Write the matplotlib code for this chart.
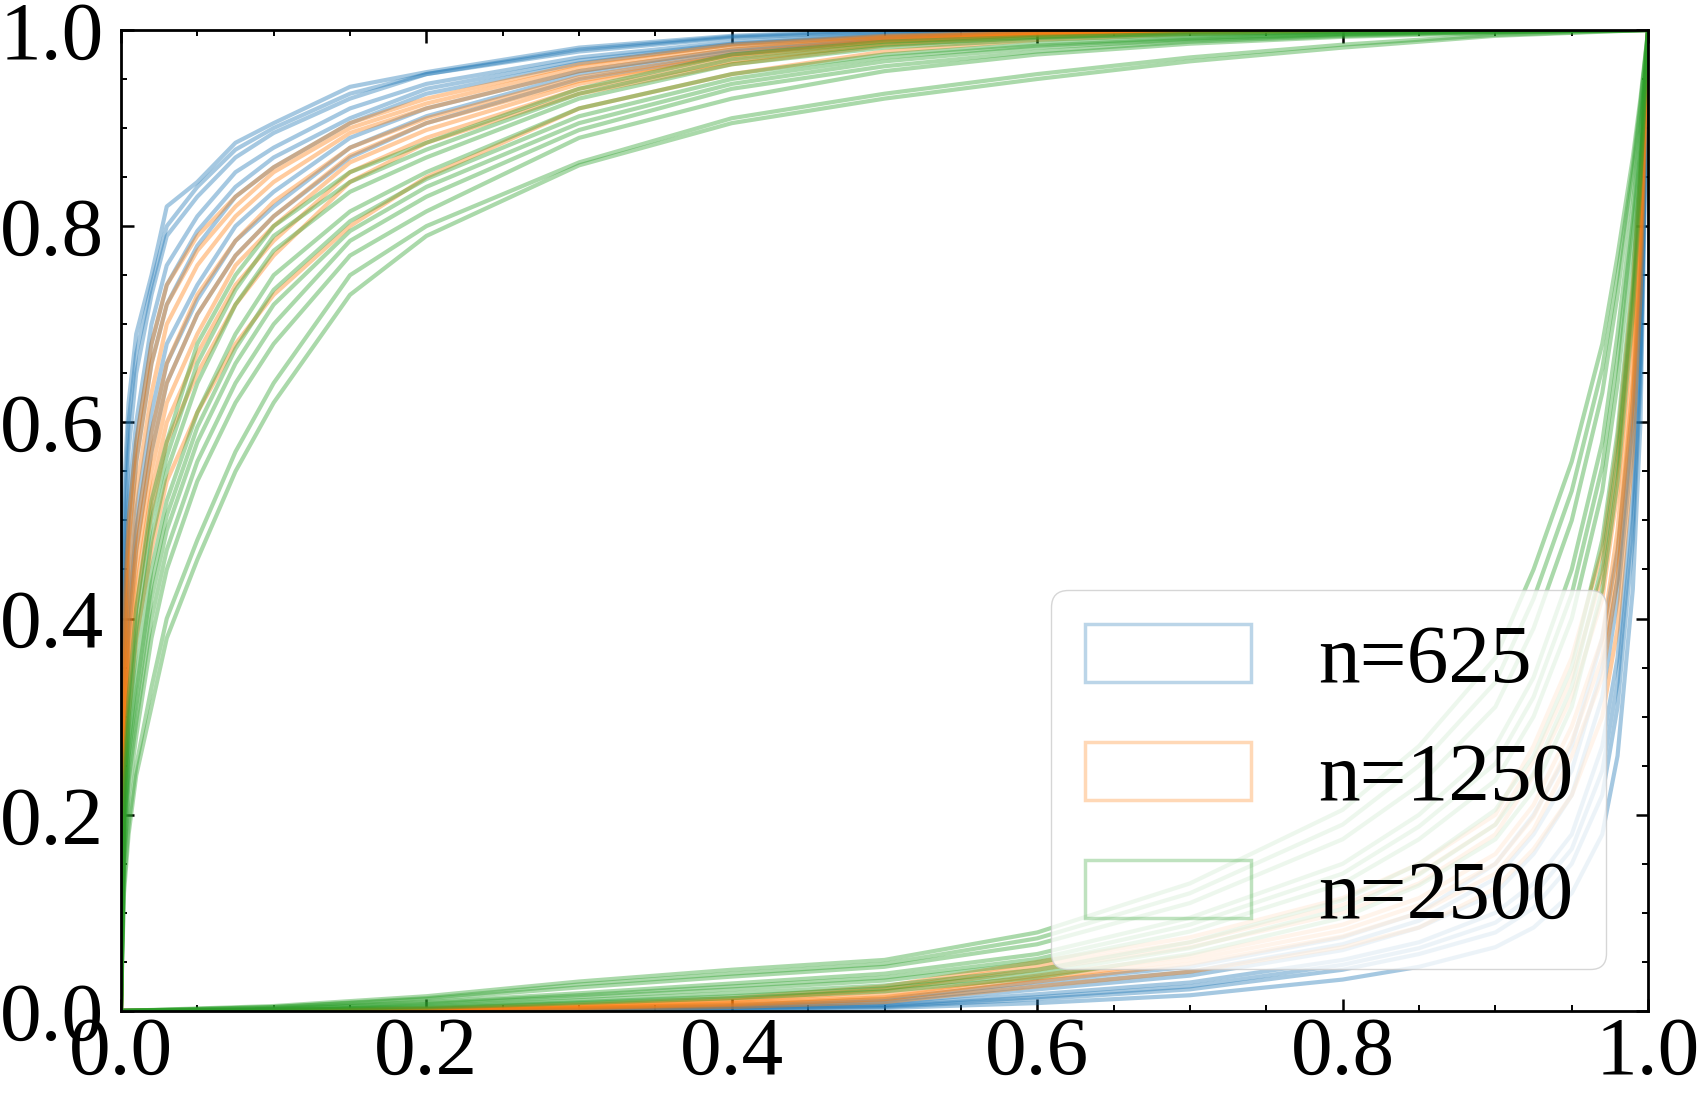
import matplotlib
matplotlib.use('Agg')
import matplotlib.pyplot as plt
import matplotlib.patches as mpatches
from matplotlib.ticker import MultipleLocator

plt.rcParams['font.family'] = 'serif'
plt.rcParams['font.serif'] = ['Liberation Serif', 'DejaVu Serif']

# x grid for the upper (concave) curves
x_up = [0, 0.002, 0.005, 0.01, 0.02, 0.03, 0.05, 0.075, 0.1, 0.15, 0.2, 0.3, 0.4, 0.5, 0.6, 0.7, 0.8, 0.9, 1.0]

# n=625 upper curves
up_625 = [
    [0, .53, .62, .69, .75, .82, .845, .885, .905, .942, .957, .982, .994, 1.0, 1.0, 1.0, 1.0, 1.0, 1.0],
    [0, .49, .60, .67, .74, .80, .84, .878, .90, .935, .955, .98, .993, .999, 1.0, 1.0, 1.0, 1.0, 1.0],
    [0, .45, .57, .65, .73, .79, .83, .87, .895, .93, .955, .978, .992, .998, 1.0, 1.0, 1.0, 1.0, 1.0],
    [0, .40, .52, .60, .70, .76, .81, .855, .88, .92, .945, .972, .988, .996, .999, 1.0, 1.0, 1.0, 1.0],
    [0, .37, .50, .58, .68, .74, .795, .84, .87, .91, .94, .969, .986, .995, .999, 1.0, 1.0, 1.0, 1.0],
    [0, .35, .47, .56, .66, .72, .78, .83, .86, .905, .935, .966, .985, .994, .998, 1.0, 1.0, 1.0, 1.0],
    [0, .30, .42, .51, .61, .68, .74, .80, .835, .89, .92, .958, .98, .992, .997, .999, 1.0, 1.0, 1.0],
    [0, .28, .40, .49, .59, .66, .725, .785, .82, .88, .912, .955, .978, .991, .997, .999, 1.0, 1.0, 1.0],
    [0, .26, .38, .47, .57, .64, .71, .77, .81, .87, .905, .95, .975, .99, .996, .999, 1.0, 1.0, 1.0],
]
# n=1250 upper curves
up_1250 = [
    [0, .40, .50, .58, .68, .74, .79, .83, .86, .905, .93, .965, .985, .994, .998, 1.0, 1.0, 1.0, 1.0],
    [0, .37, .48, .56, .66, .72, .775, .82, .855, .90, .925, .962, .983, .993, .997, .999, 1.0, 1.0, 1.0],
    [0, .34, .45, .53, .63, .70, .76, .81, .845, .895, .92, .958, .98, .992, .997, .999, 1.0, 1.0, 1.0],
    [0, .30, .41, .49, .59, .66, .73, .785, .825, .88, .91, .952, .976, .99, .996, .999, 1.0, 1.0, 1.0],
    [0, .28, .39, .47, .57, .64, .71, .77, .81, .872, .905, .948, .974, .989, .995, .998, 1.0, 1.0, 1.0],
    [0, .26, .37, .45, .55, .62, .69, .76, .80, .865, .898, .945, .972, .988, .995, .998, 1.0, 1.0, 1.0],
    [0, .24, .35, .43, .53, .60, .67, .74, .785, .855, .89, .94, .968, .986, .994, .998, 1.0, 1.0, 1.0],
    [0, .22, .33, .41, .51, .58, .65, .72, .77, .845, .885, .935, .965, .984, .993, .997, .999, 1.0, 1.0],
    [0, .20, .30, .38, .47, .54, .61, .68, .73, .80, .85, .92, .955, .978, .99, .996, .999, 1.0, 1.0],
]
# n=2500 upper curves
up_2500 = [
    [0, .24, .32, .41, .52, .58, .68, .75, .80, .855, .885, .94, .975, .988, .993, .996, .998, .999, 1.0],
    [0, .22, .30, .39, .50, .565, .66, .735, .79, .845, .878, .935, .97, .985, .992, .996, .998, .999, 1.0],
    [0, .21, .29, .37, .48, .55, .64, .72, .775, .835, .87, .93, .965, .982, .99, .995, .997, .999, 1.0],
    [0, .19, .27, .34, .45, .52, .61, .69, .75, .815, .855, .92, .955, .975, .986, .992, .996, .999, 1.0],
    [0, .18, .26, .325, .435, .505, .595, .675, .735, .805, .848, .912, .95, .972, .984, .991, .996, .998, 1.0],
    [0, .17, .25, .31, .42, .49, .58, .66, .72, .795, .84, .905, .945, .968, .982, .99, .995, .998, 1.0],
    [0, .16, .235, .295, .40, .47, .56, .64, .70, .785, .83, .898, .94, .963, .978, .988, .994, .998, 1.0],
    [0, .15, .22, .28, .38, .45, .54, .62, .68, .77, .815, .89, .93, .958, .975, .986, .993, .997, 1.0],
    [0, .13, .19, .25, .33, .40, .48, .57, .64, .75, .80, .865, .91, .935, .955, .972, .985, .995, 1.0],
    [0, .12, .18, .24, .31, .38, .46, .55, .62, .73, .79, .862, .905, .93, .95, .968, .982, .994, 1.0],
]

# x grid for the lower (convex) curves
x_low = [0, 0.1, 0.2, 0.3, 0.4, 0.5, 0.6, 0.7, 0.8, 0.85, 0.9, 0.925, 0.95, 0.97, 0.98, 0.99, 0.995, 1.0]

low_625 = [
    [0, 0, .001, .003, .006, .012, .03, .045, .075, .1, .15, .2, .27, .38, .47, .62, .76, 1.0],
    [0, 0, .001, .002, .005, .01, .026, .04, .068, .092, .135, .18, .245, .35, .44, .6, .74, 1.0],
    [0, 0, 0, .002, .004, .008, .022, .036, .062, .085, .12, .16, .22, .32, .42, .58, .72, 1.0],
    [0, 0, 0, .001, .003, .006, .017, .029, .052, .07, .1, .13, .18, .27, .36, .53, .68, 1.0],
    [0, 0, 0, .001, .002, .005, .014, .025, .047, .064, .09, .118, .165, .245, .335, .5, .66, 1.0],
    [0, 0, 0, .001, .002, .004, .012, .022, .042, .058, .08, .105, .15, .22, .31, .48, .64, 1.0],
    [0, 0, 0, 0, .001, .003, .008, .016, .032, .045, .065, .085, .12, .18, .26, .43, .6, 1.0],
]
low_1250 = [
    [0, .001, .003, .007, .013, .025, .05, .075, .115, .15, .2, .27, .36, .47, .58, .74, .86, 1.0],
    [0, .001, .002, .006, .011, .022, .046, .07, .108, .14, .19, .255, .34, .445, .555, .72, .845, 1.0],
    [0, .001, .002, .005, .01, .02, .042, .065, .1, .13, .18, .24, .32, .42, .53, .7, .83, 1.0],
    [0, 0, .002, .004, .008, .016, .036, .056, .088, .115, .16, .21, .29, .38, .49, .66, .8, 1.0],
    [0, 0, .001, .003, .007, .014, .033, .052, .082, .108, .15, .198, .275, .36, .465, .64, .785, 1.0],
    [0, 0, .001, .003, .006, .012, .03, .048, .076, .1, .14, .185, .26, .34, .44, .62, .77, 1.0],
    [0, 0, .001, .002, .004, .009, .025, .04, .065, .085, .125, .165, .22, .3, .39, .57, .73, 1.0],
]
low_2500 = [
    [0, .005, .015, .03, .042, .052, .08, .13, .205, .27, .36, .45, .56, .68, .77, .87, .93, 1.0],
    [0, .004, .013, .027, .038, .048, .074, .12, .19, .25, .335, .42, .53, .655, .75, .86, .925, 1.0],
    [0, .004, .012, .024, .035, .045, .068, .11, .175, .23, .31, .39, .5, .63, .73, .85, .92, 1.0],
    [0, .003, .009, .018, .028, .038, .058, .095, .15, .2, .27, .34, .45, .58, .69, .82, .9, 1.0],
    [0, .002, .008, .016, .025, .034, .053, .088, .14, .188, .252, .32, .425, .555, .665, .805, .89, 1.0],
    [0, .002, .007, .014, .022, .031, .049, .081, .13, .175, .235, .3, .4, .53, .64, .79, .88, 1.0],
    [0, .001, .005, .011, .018, .026, .042, .07, .113, .15, .205, .26, .35, .48, .59, .75, .86, 1.0],
    [0, .001, .004, .009, .015, .023, .038, .064, .104, .139, .19, .242, .33, .455, .565, .73, .85, 1.0],
    [0, .001, .003, .008, .013, .02, .034, .058, .095, .128, .175, .225, .31, .43, .54, .71, .84, 1.0],
]

labels = ['n=625', 'n=1250', 'n=2500']
colors = ['tab:blue', 'tab:orange', 'tab:green']
groups_up = [up_625, up_1250, up_2500]
groups_low = [low_625, low_1250, low_2500]

fig, ax = plt.subplots(figsize=(17.01, 11.01), dpi=100)
fig.subplots_adjust(left=0.0711, right=0.9689, bottom=0.0818, top=0.9728)

for c, ups, lows in zip(colors, groups_up, groups_low):
    for y in ups:
        ax.plot(x_up, y, color=c, alpha=0.4, lw=3)
    for y in lows:
        ax.plot(x_low, y, color=c, alpha=0.4, lw=3)

ax.set_xlim(0, 1)
ax.set_ylim(0, 1)

ax.xaxis.set_major_locator(MultipleLocator(0.2))
ax.yaxis.set_major_locator(MultipleLocator(0.2))
ax.xaxis.set_minor_locator(MultipleLocator(0.05))
ax.yaxis.set_minor_locator(MultipleLocator(0.05))
ax.tick_params(which='both', direction='in', top=True, right=True, labelsize=60)
ax.tick_params(which='major', length=9, width=1.8)
ax.tick_params(which='minor', length=4.5, width=1.4)
ax.tick_params(axis='y', pad=12)
ax.tick_params(axis='x', pad=4)
for s in ax.spines.values():
    s.set_linewidth(2)

handles = [mpatches.Patch(facecolor='none', edgecolor=c, alpha=0.3, lw=2.5) for c in colors]
ax.legend(handles, labels, loc='lower right', fontsize=60, handlelength=2.0,
          handletextpad=0.8, borderaxespad=0.5, labelspacing=0.5, framealpha=0.8)

fig.savefig('out.png', dpi=100)
